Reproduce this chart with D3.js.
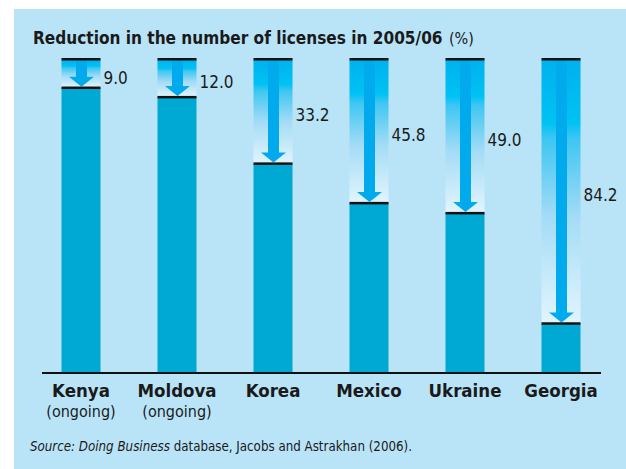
<!DOCTYPE html>
<html>
<head>
<meta charset="utf-8">
<script src="https://cdn.jsdelivr.net/npm/d3@7"></script>
<style>
  body { margin: 0; background: #fff; }
  svg { display: block; }
  text { font-family: "Liberation Sans Narrow", "DejaVu Sans Condensed", "Open Sans", sans-serif; fill: #1a1a1a; }
</style>
</head>
<body>
<div id="chart"></div>
<script>
// data
var countries = ["Kenya", "Moldova", "Korea", "Mexico", "Ukraine", "Georgia"];
var notes = ["(ongoing)", "(ongoing)", "", "", "", ""];
var reductions = [9.0, 12.0, 33.2, 45.8, 49.0, 84.2];

var W = 626, H = 469;

var svg = d3.select("#chart").append("svg")
    .attr("width", W)
    .attr("height", H);

// light blue panel
svg.append("rect")
    .attr("x", 14).attr("y", 9)
    .attr("width", W - 14).attr("height", H - 9)
    .attr("fill", "#b9e4f8");

var defs = svg.append("defs");
var grad = defs.append("linearGradient")
    .attr("id", "fade")
    .attr("x1", 0).attr("y1", 0).attr("x2", 0).attr("y2", 1);
grad.append("stop").attr("offset", "0%").attr("stop-color", "#00b1ee");
grad.append("stop").attr("offset", "24%").attr("stop-color", "#00c2f3");
grad.append("stop").attr("offset", "30%").attr("stop-color", "#3ec6f2");
grad.append("stop").attr("offset", "60%").attr("stop-color", "#a4dcf6");
grad.append("stop").attr("offset", "100%").attr("stop-color", "#e2f5fd");

// squeeze a text to the width seen in the reference
function fit(sel, target) {
    var w = sel.node().getComputedTextLength();
    if (w > target) {
        sel.attr("textLength", target).attr("lengthAdjust", "spacingAndGlyphs");
    }
}

// title: shrink the font until it spans the reference width
var title = svg.append("text")
    .attr("x", 33).attr("y", 44)
    .attr("font-weight", "bold")
    .attr("font-size", 19)
    .text("Reduction in the number of licenses in 2005/06");
var tw = title.node().getComputedTextLength();
if (tw > 410) title.attr("font-size", 19 * 410 / tw);
svg.append("text")
    .attr("x", 449).attr("y", 44)
    .attr("font-size", 16)
    .text("(%)");

var x = d3.scalePoint()
    .domain(countries)
    .range([33, 609])
    .padding(0.5);

var y = d3.scaleLinear()
    .domain([0, 100])
    .range([59.5, 373]);

var barW = 39;

var data = countries.map(function(c, i) {
    return { country: c, note: notes[i], value: reductions[i] };
});

var g = svg.selectAll("g.bar")
    .data(data)
    .enter().append("g")
    .attr("class", "bar")
    .attr("transform", function(d) { return "translate(" + (x(d.country) - barW / 2) + ",0)"; });

// remaining part of the bar
g.append("rect")
    .attr("x", 0)
    .attr("y", function(d) { return y(d.value); })
    .attr("width", barW)
    .attr("height", function(d) { return y(100) - y(d.value); })
    .attr("fill", "#00a8d4");

// removed part, faded
g.append("rect")
    .attr("x", 0)
    .attr("y", y(0))
    .attr("width", barW)
    .attr("height", function(d) { return y(d.value) - y(0); })
    .attr("fill", "url(#fade)");

// arrow shaft
var shaftW = 11, headW = 25, headH = 10;
g.append("rect")
    .attr("x", barW / 2 - shaftW / 2 + 0.5)
    .attr("y", y(0) + 1)
    .attr("width", shaftW)
    .attr("height", function(d) { return Math.max(0, y(d.value) - headH - y(0) - 1); })
    .attr("fill", "#00aaec");

// arrow head
g.append("path")
    .attr("d", function(d) {
        var tip = y(d.value) - 1, cx = barW / 2 + 0.5;
        return "M" + (cx - headW / 2) + "," + (tip - headH) +
               "L" + (cx + headW / 2) + "," + (tip - headH) +
               "L" + cx + "," + tip + "Z";
    })
    .attr("fill", "#00aaec");

// black lines at start and end
g.append("rect")
    .attr("x", 0).attr("y", y(0) - 1.5)
    .attr("width", barW).attr("height", 2.5)
    .attr("fill", "#111");
g.append("rect")
    .attr("x", 0).attr("y", function(d) { return y(d.value) - 1.2; })
    .attr("width", barW).attr("height", 2.5)
    .attr("fill", "#111");

// value labels
g.append("text")
    .attr("x", barW + 3)
    .attr("y", function(d) { return (y(0) + y(d.value)) / 2 + 4; })
    .attr("dy", "0.35em")
    .attr("font-size", 17)
    .text(function(d) { return d3.format(".1f")(d.value); });

// axis line
svg.append("line")
    .attr("x1", 42).attr("x2", 601)
    .attr("y1", 373).attr("y2", 373)
    .attr("stroke", "#111")
    .attr("stroke-width", 2);

// category labels
var labels = svg.selectAll("g.lab")
    .data(data)
    .enter().append("g")
    .attr("class", "lab")
    .attr("transform", function(d) { return "translate(" + x(d.country) + ",0)"; });
labels.append("text")
    .attr("y", 397)
    .attr("text-anchor", "middle")
    .attr("font-weight", "bold")
    .attr("font-size", 18.5)
    .text(function(d) { return d.country; });
labels.append("text")
    .attr("y", 417)
    .attr("text-anchor", "middle")
    .attr("font-size", 16)
    .text(function(d) { return d.note; });

// source note
var src = svg.append("text")
    .attr("x", 30).attr("y", 451)
    .attr("font-size", 13.5);
src.append("tspan").attr("font-style", "italic").text("Source: Doing Business");
src.append("tspan").text(" database, Jacobs and Astrakhan (2006).");
fit(src, 382);
</script>
</body>
</html>
